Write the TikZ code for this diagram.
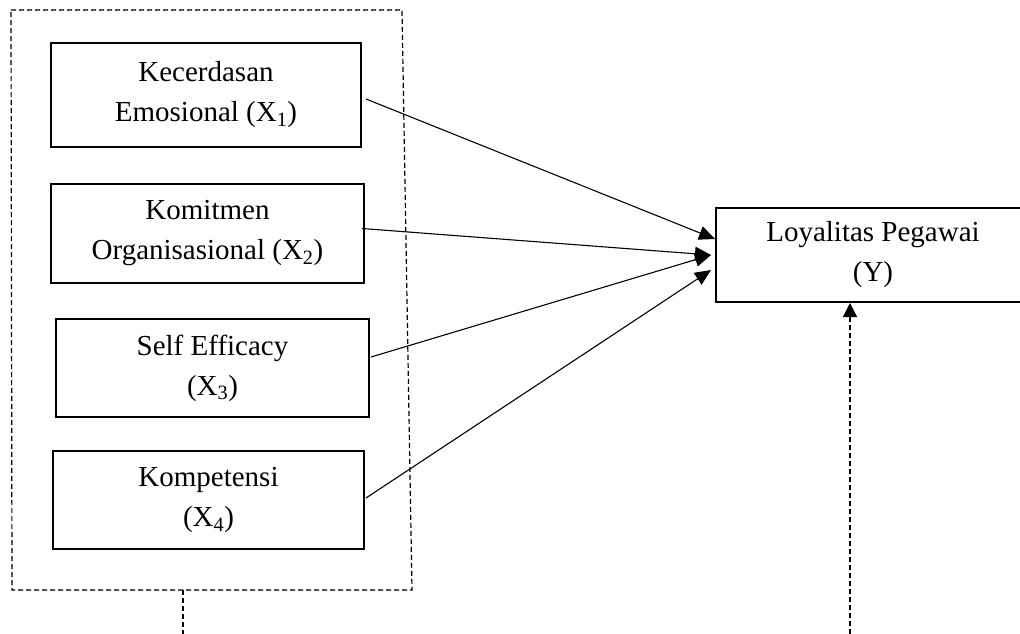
\documentclass[tikz,border=0pt]{standalone}
\usepackage{fontspec}
\setmainfont{Liberation Serif}
\usetikzlibrary{arrows.meta}
\begin{document}
\begin{tikzpicture}[x=1pt,y=-1pt,
  box/.style={draw, line width=2pt, rectangle, inner sep=0pt, align=center, font=\fontsize{29}{40}\selectfont},
  conn/.style={line width=1.1pt, -{Triangle[length=16pt,width=14pt]}},
  grpline/.style={line width=1.2pt, dash pattern=on 5pt off 3pt},
]
\useasboundingbox (0,0) rectangle (1020,634);
% group outline
\coordinate (g1) at (11,10);
\coordinate (g2) at (402,10);
\coordinate (g3) at (412,590);
\coordinate (g4) at (12,590);
\draw[grpline] (g1) -- (g2) -- (g3) -- (g4) -- cycle;
\coordinate (gs) at (183,590);
\coordinate (ge) at (183,634);
\draw[grpline] (gs) -- (ge);
% boxes
\node[box, minimum width=310pt, minimum height=104pt] (b1) at (206,95) {Kecerdasan\\Emosional (X\textsubscript{1})};
\node[box, minimum width=313pt, minimum height=99pt] (b2) at (207.5,233.5) {Komitmen\\Organisasional (X\textsubscript{2})};
\node[box, minimum width=313pt, minimum height=98pt] (b3) at (212.5,368) {Self Efficacy\\(X\textsubscript{3})};
\node[box, minimum width=311pt, minimum height=98pt] (b4) at (208.5,500) {Kompetensi\\(X\textsubscript{4})};
\node[box, minimum width=314pt, minimum height=94pt] (Y) at (873,255) {Loyalitas Pegawai\\(Y)};
% connectors
\draw[conn] ([xshift=4pt,yshift=-4pt]b1.east) -- ([yshift=16pt]Y.west);
\draw[conn] ([xshift=-3pt,yshift=5pt]b2.east) -- ([xshift=-4pt]Y.west);
\draw[conn] ([xshift=1pt,yshift=11pt]b3.east) -- ([xshift=-4pt]Y.west);
\draw[conn] ([xshift=1pt,yshift=2pt]b4.east) -- ([xshift=-4pt,yshift=-15pt]Y.west);
% dashed arrow up
\coordinate (ys) at (850,634);
\draw[grpline, -{Triangle[length=14pt,width=14pt]}] (ys) -- (ys |- Y.south);
\end{tikzpicture}
\end{document}
